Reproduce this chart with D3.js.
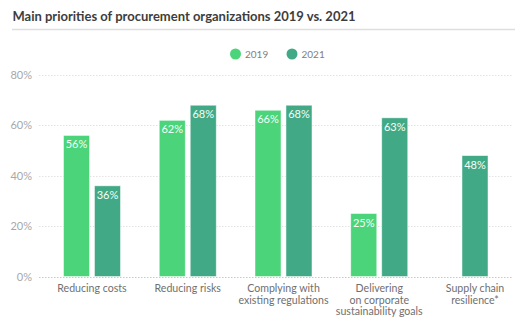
<!DOCTYPE html>
<html><head><meta charset="utf-8">
<script src="https://cdn.jsdelivr.net/npm/d3@7"></script>
<style>
body{margin:0;background:#fff;}
svg{display:block;font-family:Lato, "Open Sans", sans-serif;}
</style></head>
<body><svg id="c" width="525" height="327"></svg>
<script>
const categories = [
  ["Reducing costs"],
  ["Reducing risks"],
  ["Complying with","existing regulations"],
  ["Delivering","on corporate","sustainability goals"],
  ["Supply chain","resilience*"]
];
const seriesNames = ["2019","2021"];
const values2019 = [56, 62, 66, 25, null];
const values2021 = [36, 68, 68, 63, 48];
const yTicks = [0, 20, 40, 60, 80];
const colors = {"2019":"#4cd47b","2021":"#42a987"};

const svg = d3.select("#c");
const idx = d3.range(categories.length);
const x = d3.scalePoint().domain(idx).range([92, 475]);
const xs = d3.scaleBand().domain(seriesNames).range([-28.5, 28.5]).paddingInner(0.16);
const y = d3.scaleLinear().domain([0, 80]).range([276.5, 75]);

// title
const title = svg.append("text").attr("x",12.5).attr("y",21).attr("fill","#3d3d3d")
  .attr("font-weight","700").attr("font-size",13.6).text("Main priorities of procurement organizations 2019 vs. 2021");
const tw = title.node().getComputedTextLength();
if (Math.abs(tw - 343) > 2) title.attr("textLength",343).attr("lengthAdjust","spacingAndGlyphs");
svg.append("line").attr("x1",12).attr("x2",515).attr("y1",29.5).attr("y2",29.5)
  .attr("stroke","#dedede").attr("stroke-width",1.5);

// legend
const leg = svg.append("g");
[[235.5,"2019"],[292,"2021"]].forEach(([cx,n])=>{
  leg.append("circle").attr("cx",cx).attr("cy",54).attr("r",5.5).attr("fill",colors[n]);
  leg.append("text").attr("x",cx+9.5).attr("y",57.5).attr("font-size",10).attr("fill","#808080").text(n);
});

// grid
const grid = svg.append("g");
yTicks.forEach(t=>{
  grid.append("line").attr("x1",39).attr("x2",512).attr("y1",Math.round(y(t))+0.5).attr("y2",Math.round(y(t))+0.5)
    .attr("stroke", t===0 ? "#c8c8c8" : "#e2e2e2").attr("stroke-dasharray","1.5,1.5").attr("stroke-width",1);
  grid.append("text").attr("x",32).attr("y",y(t)+4).attr("text-anchor","end")
    .attr("font-size",11).attr("fill","#a8a8a8").text(t+"%");
});

// bars
const data = [];
idx.forEach(i=>{
  const vals = {"2019":values2019[i],"2021":values2021[i]};
  const present = seriesNames.filter(s=>vals[s]!=null);
  present.forEach(s=>{
    const off = present.length===1 ? -xs.bandwidth()/2 : xs(s);
    data.push({i, s, v: vals[s], x0: x(i)+off});
  });
});
const bars = svg.append("g");
bars.selectAll("rect").data(data).join("rect")
  .attr("x",d=>d.x0).attr("y",d=>y(d.v)).attr("width",xs.bandwidth())
  .attr("height",d=>y(0)-y(d.v)).attr("fill",d=>colors[d.s])
  .attr("stroke","#ffffff").attr("stroke-width",0.8).attr("stroke-opacity",0.6);
bars.selectAll("text").data(data).join("text")
  .attr("x",d=>d.x0+xs.bandwidth()/2).attr("y",d=>y(d.v)+13)
  .attr("text-anchor","middle").attr("font-size",11).attr("fill","#f2fff6")
  .text(d=>d.v+"%");

// x labels
const xl = svg.append("g");
idx.forEach(i=>{
  const t = xl.append("text").attr("x",x(i)).attr("y",292).attr("text-anchor","middle")
    .attr("font-size",10.6).attr("fill","#6f6f6f");
  categories[i].forEach((line,k)=>{
    t.append("tspan").attr("x",x(i)).attr("dy",k===0?0:11.5).text(line);
  });
});
</script></body></html>
